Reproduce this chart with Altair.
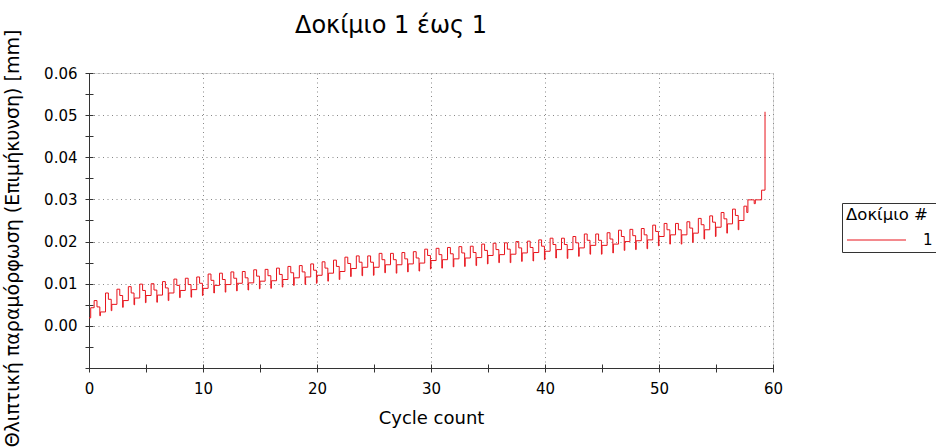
import altair as alt
import pandas as pd

# ---- data ----
cycle_peak = [0.0060, 0.0078, 0.0087, 0.0093, 0.0099, 0.0100, 0.0105, 0.0111, 0.0113, 0.0116,
              0.0123, 0.0125, 0.0128, 0.0129, 0.0133, 0.0134, 0.0137, 0.0141, 0.0143, 0.0147,
              0.0152, 0.0156, 0.0163, 0.0166, 0.0166, 0.0172, 0.0172, 0.0174, 0.0176, 0.0182,
              0.0184, 0.0186, 0.0188, 0.0189, 0.0194, 0.0196, 0.0197, 0.0200, 0.0201, 0.0204,
              0.0208, 0.0208, 0.0212, 0.0218, 0.0218, 0.0221, 0.0227, 0.0229, 0.0231, 0.0239,
              0.0243, 0.0243, 0.0247, 0.0255, 0.0261, 0.0269, 0.0277, 0.0284]
cycle_drop = [0.0045, 0.0063, 0.0072, 0.0078, 0.0084, 0.0085, 0.0090, 0.0096, 0.0098, 0.0101,
              0.0108, 0.0110, 0.0113, 0.0114, 0.0118, 0.0119, 0.0122, 0.0126, 0.0128, 0.0132,
              0.0137, 0.0141, 0.0148, 0.0151, 0.0151, 0.0157, 0.0157, 0.0159, 0.0161, 0.0167,
              0.0169, 0.0171, 0.0173, 0.0174, 0.0179, 0.0181, 0.0182, 0.0185, 0.0186, 0.0189,
              0.0193, 0.0193, 0.0197, 0.0203, 0.0203, 0.0206, 0.0212, 0.0214, 0.0216, 0.0224,
              0.0228, 0.0228, 0.0232, 0.0240, 0.0246, 0.0254, 0.0262, 0.0269]
cycle_min = [0.0024, 0.0036, 0.0044, 0.0050, 0.0055, 0.0056, 0.0060, 0.0067, 0.0068, 0.0072,
             0.0078, 0.0080, 0.0083, 0.0085, 0.0088, 0.0089, 0.0092, 0.0096, 0.0098, 0.0101,
             0.0106, 0.0110, 0.0117, 0.0119, 0.0120, 0.0126, 0.0125, 0.0128, 0.0130, 0.0135,
             0.0137, 0.0140, 0.0141, 0.0143, 0.0147, 0.0150, 0.0150, 0.0153, 0.0154, 0.0157,
             0.0161, 0.0160, 0.0165, 0.0170, 0.0170, 0.0173, 0.0179, 0.0181, 0.0183, 0.0190,
             0.0194, 0.0194, 0.0198, 0.0206, 0.0212, 0.0220, 0.0228]
cycle_low = [0.0033, 0.0051, 0.0060, 0.0066, 0.0072, 0.0073, 0.0078, 0.0084, 0.0086, 0.0089,
             0.0096, 0.0098, 0.0101, 0.0102, 0.0106, 0.0107, 0.0110, 0.0114, 0.0116, 0.0120,
             0.0125, 0.0129, 0.0136, 0.0139, 0.0139, 0.0145, 0.0145, 0.0147, 0.0149, 0.0155,
             0.0157, 0.0159, 0.0161, 0.0162, 0.0167, 0.0169, 0.0170, 0.0173, 0.0174, 0.0177,
             0.0181, 0.0181, 0.0185, 0.0191, 0.0191, 0.0194, 0.0200, 0.0202, 0.0204, 0.0212,
             0.0216, 0.0216, 0.0220, 0.0228, 0.0234, 0.0242, 0.0250]
phase_peak, phase_drop, phase_min, phase_low = 0.45, 0.70, 0.95, 1.00
start_x = [0.0, 0.15]
start_y = [0.0019, 0.0043]
tail_x = [57.8, 58.35, 58.45, 59.0, 59.3]
tail_y = [0.0299, 0.0290, 0.0299, 0.0322, 0.0508]

x_label_values = [0, 10, 20, 30, 40, 50, 60]
x_tick_values = [0, 5, 10, 15, 20, 25, 30, 35, 40, 45, 50, 55, 60]
y_label_values = [0.0, 0.01, 0.02, 0.03, 0.04, 0.05, 0.06]
y_tick_values = [-0.01, -0.005, 0.0, 0.005, 0.01, 0.015, 0.02, 0.025, 0.03, 0.035,
                 0.04, 0.045, 0.05, 0.055, 0.06]

xs = list(start_x)
ys = list(start_y)
for i in range(len(cycle_peak)):
    xs.append(i + phase_peak); ys.append(cycle_peak[i])
    xs.append(i + phase_drop); ys.append(cycle_drop[i])
    if i < len(cycle_min):
        xs.append(i + phase_min); ys.append(cycle_min[i])
        xs.append(i + phase_low); ys.append(cycle_low[i])
xs += tail_x
ys += tail_y

df = pd.DataFrame({"cycle": xs, "value": ys, "idx": range(len(xs)), "spec": ["1"] * len(xs)})

FONT = "DejaVu Sans"
xscale = alt.Scale(domain=[0, 60], nice=False, zero=False)
yscale = alt.Scale(domain=[-0.01, 0.06], nice=False, zero=False)
GRID_DASH = [1, 3.5]

main = alt.Chart(df).mark_line(interpolate="step-after", strokeWidth=1).encode(
    x=alt.X("cycle:Q", scale=xscale,
            axis=alt.Axis(orient="bottom", values=x_label_values, title="Cycle count",
                          ticks=False, tickSize=0, labelPadding=13, labelFontSize=15,
                          labelFont=FONT, labelColor="black", titleFont=FONT,
                          titleFontSize=18, titleFontWeight="normal", titleColor="black",
                          titlePadding=13, grid=True, gridDash=GRID_DASH, gridColor="#888888",
                          domainColor="#333333", labelFlush=False)),
    y=alt.Y("value:Q", scale=yscale,
            axis=alt.Axis(orient="left", values=y_label_values, format=".2f",
                          title="Θλιπτική παραμόρφωση (Επιμήκυνση) [mm]",
                          ticks=False, tickSize=0, labelPadding=12, labelFontSize=15,
                          labelFont=FONT, labelColor="black", titleFont=FONT,
                          titleFontSize=19, titleFontWeight="normal", titleColor="black",
                          titleX=-77, titleY=165, titleAngle=270, titleAlign="center",
                          titleBaseline="middle", grid=True, gridDash=GRID_DASH,
                          gridColor="#888888", domainColor="#333333", labelFlush=False)),
    color=alt.Color("spec:N", scale=alt.Scale(domain=["1"], range=["#e8141c"]),
                    legend=alt.Legend(title="Δοκίμιο #", orient="none", legendX=753,
                                      legendY=130, symbolType="M-3,0H3", symbolSize=387,
                                      symbolOffset=20, symbolStrokeWidth=1, labelOffset=36,
                                      labelFontSize=15, labelFont=FONT, labelColor="black",
                                      titleFont=FONT, titleFontSize=16.5,
                                      titleFontWeight="normal", titleColor="black",
                                      strokeColor="#333333", fillColor="white", padding=4,
                                      titlePadding=6)),
    order="idx:Q",
)

ticks_layer = alt.Chart(df).mark_line(opacity=0).encode(
    x=alt.X("cycle:Q", scale=xscale,
            axis=alt.Axis(orient="bottom", values=x_tick_values, labels=False, title=None,
                          domain=False, grid=False, ticks=True, tickSize=8, offset=-4,
                          tickColor="#333333")),
    y=alt.Y("value:Q", scale=yscale,
            axis=alt.Axis(orient="left", values=y_tick_values, labels=False, title=None,
                          domain=False, grid=False, ticks=True, tickSize=8, offset=-4,
                          tickColor="#333333")),
    order="idx:Q",
)

chart = alt.layer(main, ticks_layer).resolve_axis(x="independent", y="independent").properties(
    width=684, height=295,
    autosize=alt.AutoSizeParams(type="none"),
    padding={"left": 89, "top": 73, "right": 163, "bottom": 80},
    title=alt.TitleParams("Δοκίμιο 1 έως 1", font=FONT, fontSize=24, fontWeight="normal",
                          color="black", anchor="middle", frame="group", dx=-40, dy=29,
                          offset=20),
).configure_view(stroke="#333333", strokeWidth=1).configure(background="white")

chart.save("out.html", embed_options={"renderer": "svg", "actions": False})
